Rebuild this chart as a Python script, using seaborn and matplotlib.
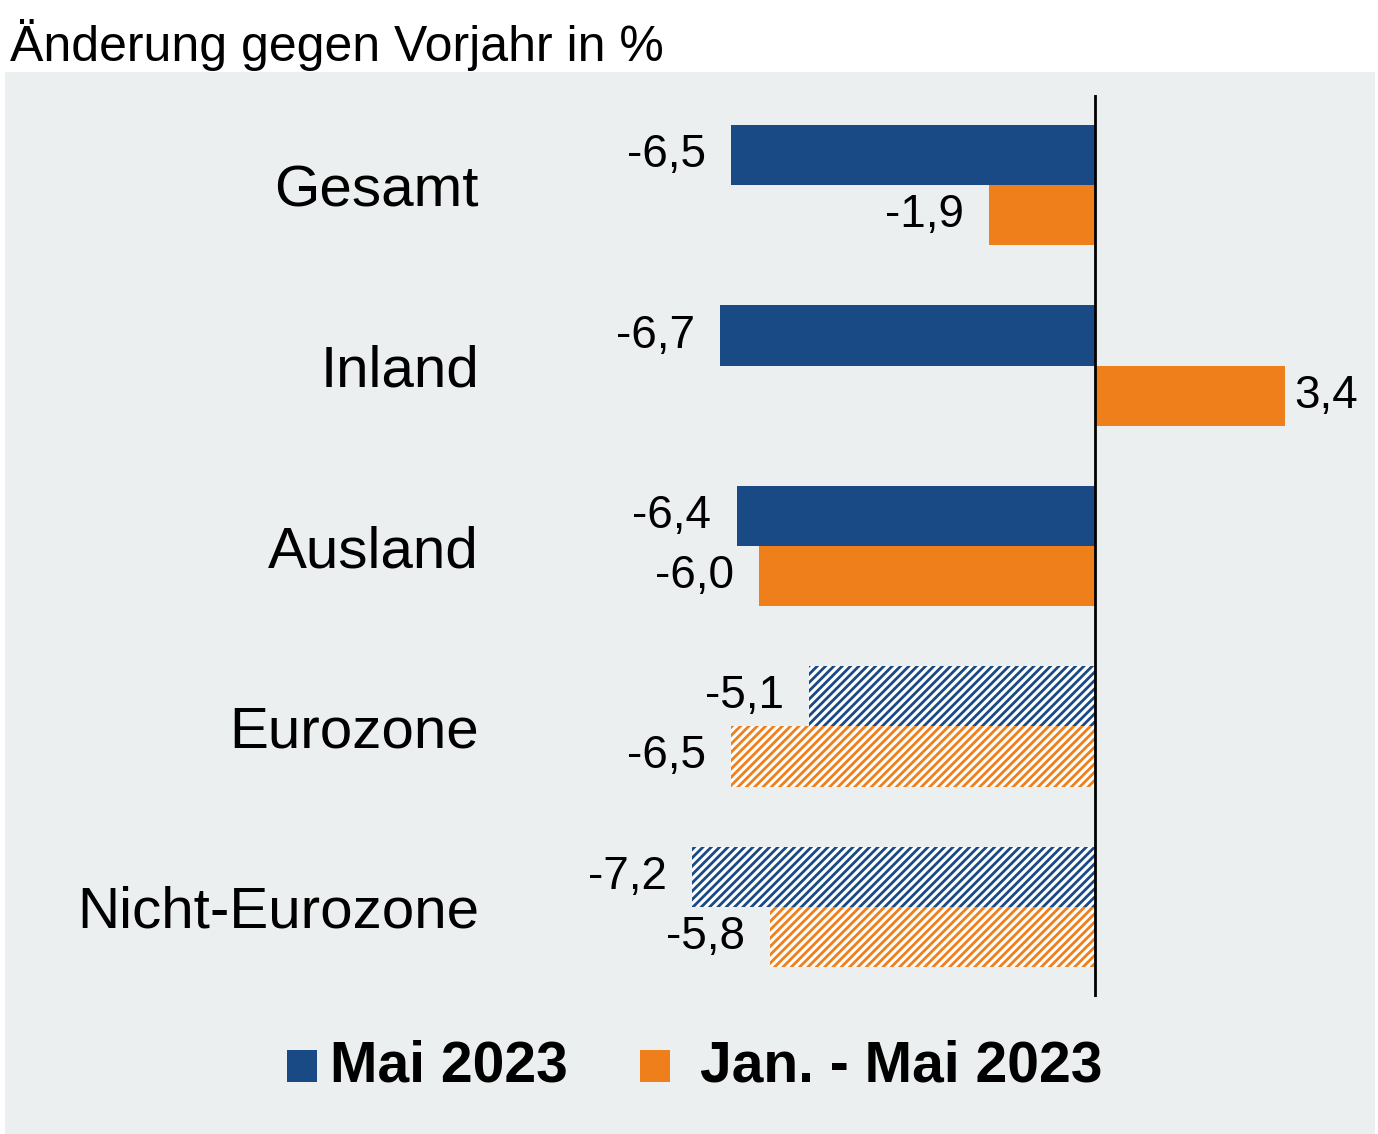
import matplotlib
matplotlib.use("Agg")
import matplotlib.pyplot as plt
import seaborn as sns
import pandas as pd
from matplotlib.patches import Rectangle

categories = ["Gesamt", "Inland", "Ausland", "Eurozone", "Nicht-Eurozone"]
mai_2023 = [-6.5, -6.7, -6.4, -5.1, -7.2]
jan_mai_2023 = [-1.9, 3.4, -6.0, -6.5, -5.8]
series = ["Mai 2023", "Jan. - Mai 2023"]
colors = ["#1a4a85", "#ef7f1a"]
hatched = ["Eurozone", "Nicht-Eurozone"]

df = pd.DataFrame({
    "cat": categories * 2,
    "val": mai_2023 + jan_mai_2023,
    "ser": [series[0]] * 5 + [series[1]] * 5,
})

sns.set_theme(style="white")
plt.rcParams["font.family"] = ["Liberation Sans", "DejaVu Sans"]
plt.rcParams["text.color"] = "black"
plt.rcParams["ytick.color"] = "black"
plt.rcParams["ytick.labelcolor"] = "black"
plt.rcParams["hatch.linewidth"] = 2.0

fig = plt.figure(figsize=(13.78, 11.34), dpi=100)
fig.patches.append(Rectangle((5/1378, 0), 1370/1378, 1 - 72/1134, transform=fig.transFigure,
                             facecolor="#ecefef", edgecolor="none", zorder=-10))
fig.text(10/1378, 1 - 45/1134, "Änderung gegen Vorjahr in %", fontsize=36, va="center", ha="left", color="black")

ax = fig.add_axes([490/1378, 1 - 997/1134, 880/1378, 902/1134])
ax.set_facecolor("none")
sns.barplot(data=df, x="val", y="cat", hue="ser", palette=colors, orient="h",
            width=0.667, ax=ax, legend=False, saturation=1)

zero_px = 1095
units_per_px = 1 / 56.0
left = -(zero_px - 490) * units_per_px
ax.set_xlim(left, left + 880 * units_per_px)
ax.set_ylim(4.5, -0.5)

for ci, cont in enumerate(ax.containers):
    vals = [mai_2023, jan_mai_2023][ci]
    for i, bar in enumerate(cont):
        bar.set_edgecolor("none")
        if categories[i] in hatched:
            bar.set_facecolor("white")
            bar.set_edgecolor(colors[ci])
            bar.set_hatch("////")
            bar.set_linewidth(0)
        v = vals[i]
        y = bar.get_y() + bar.get_height() / 2
        txt = f"{v:.1f}".replace(".", ",")
        if v < 0:
            ax.text(v - 0.45, y, txt, ha="right", va="center", fontsize=33, color="black")
        else:
            ax.text(v + 0.15, y, txt, ha="left", va="center", fontsize=33, color="black")

ax.axvline(0, color="black", lw=2, ymin=0, ymax=1)
for s in ax.spines.values():
    s.set_visible(False)
ax.set_xticks([])
ax.set_xlabel("")
ax.set_ylabel("")
ax.tick_params(axis="y", length=0, labelsize=42, pad=8, labelcolor="black")

# legend
ly = 1 - 1066/1134
fig.patches.append(Rectangle((287/1378, ly - 16/1134), 30/1378, 32/1134, transform=fig.transFigure,
                             facecolor=colors[0], edgecolor="none"))
fig.text(330/1378, ly, series[0], fontsize=41, fontweight="bold", va="center", ha="left", color="black")
fig.patches.append(Rectangle((640/1378, ly - 16/1134), 30/1378, 32/1134, transform=fig.transFigure,
                             facecolor=colors[1], edgecolor="none"))
fig.text(700/1378, ly, series[1], fontsize=41, fontweight="bold", va="center", ha="left", color="black")

fig.savefig("out.png", dpi=100, facecolor="white")
